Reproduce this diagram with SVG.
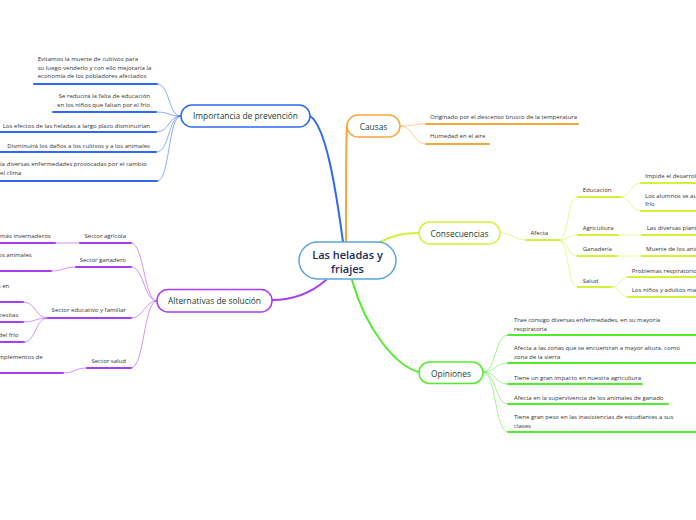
<svg xmlns="http://www.w3.org/2000/svg" width="696" height="520" viewBox="0 0 696 520">
<style>
.t{font-family:"Open Sans","Noto Sans","Liberation Sans",sans-serif;font-size:6.05px;fill:#333}
.n{font-family:"Open Sans","Noto Sans","Liberation Sans",sans-serif;font-size:8.4px;fill:#163f2e}
.c{font-family:"Open Sans","Noto Sans","Liberation Sans",sans-serif;font-size:11px;font-weight:600;fill:#1a2a55}
.e{text-anchor:end}
.m{text-anchor:middle}
.box{fill:#fff;stroke-width:1.5}
.u{fill:none;stroke-width:2;stroke-linecap:round}
.k{fill:none;stroke-width:1;opacity:.55}
.b{stroke:#2f68f2}.p{stroke:#a93ef0}.o{stroke:#f6a73a}.y{stroke:#d2f23a}.g{stroke:#52ec2e}
</style>
<rect width="696" height="520" fill="#fff"/>
<g id="connectors">
<path class="u b" d="M343,242 C336,190 326,126 310,116"/>
<path class="u o" d="M346,242 C346,190 346,130 347,126"/>
<path class="u y" d="M380,242 C392,236 402,233 419,233"/>
<path class="u g" d="M352,280 C366,330 396,366 419,372"/>
<path class="u p" d="M326,280 C310,294 292,300 272,300"/>
<path class="k b" d="M181,116 C168,116 170,84 157,84"/>
<path class="k b" d="M181,116 C168,116 170,112 156,112"/>
<path class="k b" d="M181,116 C168,116 170,132 156,132"/>
<path class="k b" d="M181,116 C168,116 170,152 156,152"/>
<path class="k b" d="M181,116 C168,116 170,181 157,181"/>
<path class="k o" d="M400,126 C413,126 413,124 426,124"/>
<path class="k o" d="M400,126 C413,126 413,144 426,144"/>
<path class="k y" d="M501,233 C513,233 514,240 526,240"/>
<path class="k y" d="M558,240 C570,240 566,197 578,197"/>
<path class="k y" d="M558,240 C570,240 566,235 578,235"/>
<path class="k y" d="M558,240 C570,240 566,256 578,256"/>
<path class="k y" d="M558,240 C570,240 566,287 578,287"/>
<path class="k y" d="M620,197 C631,197 630,183 641,183"/>
<path class="k y" d="M620,197 C631,197 630,211 641,211"/>
<path class="k y" d="M618,235 L642,235"/>
<path class="k y" d="M617,256 L642,256"/>
<path class="k y" d="M612,287 C620,287 620,277 628,277"/>
<path class="k y" d="M612,287 C620,287 620,297 628,297"/>
<path class="k g" d="M483,372 C496,372 495,335 508,335"/>
<path class="k g" d="M483,372 C496,372 495,363 508,363"/>
<path class="k g" d="M483,372 C496,372 495,384 508,384"/>
<path class="k g" d="M483,372 C496,372 495,404 508,404"/>
<path class="k g" d="M483,372 C496,372 495,432 508,432"/>
<path class="k p" d="M157,301 C144,301 144,243 131,243"/>
<path class="k p" d="M157,301 C144,301 144,267 131,267"/>
<path class="k p" d="M157,301 C144,301 144,318 131,318"/>
<path class="k p" d="M157,301 C144,301 144,368 131,368"/>
<path class="k p" d="M55,243 L80,243"/>
<path class="k p" d="M51,271 C64,271 63,267 76,267"/>
<path class="k p" d="M48,318 C35,318 36,302 23,302"/>
<path class="k p" d="M48,318 C35,318 36,322 23,322"/>
<path class="k p" d="M48,318 C35,318 36,342 24,342"/>
<path class="k p" d="M63,373 C75,373 75,368 87,368"/>
</g>
<g id="center">
<rect class="box" x="299" y="242" width="97" height="37" rx="18.5" fill="#f6fbff" stroke="#58a6dc"/>
<text class="c m" x="347.5" y="259">Las heladas y</text>
<text class="c m" x="347.5" y="273">friajes</text>
</g>
<g id="importancia">
<rect class="box" x="181" y="105" width="129" height="22" rx="11" stroke="#2f68f2"/>
<text class="n m" x="245.5" y="119">Importancia de prevención</text>
<path class="u b" d="M34,84 H157"/>
<text class="t" x="37.7" y="61.2">Evitamos la muerte de cultivos para</text>
<text class="t" x="37.7" y="69.7">su luego venderlo y con ello mejoraría la</text>
<text class="t" x="37.7" y="78.2">economía de los pobladores afectados</text>
<path class="u b" d="M53,112 H156"/>
<text class="t e" x="150" y="98">Se reducirá la falta de educación</text>
<text class="t e" x="150" y="107">en los niños que faltan por el frío</text>
<path class="u b" d="M0,132 H156"/>
<text class="t e" x="150" y="127.5">Los efectos de las heladas a largo plazo disminuirían</text>
<path class="u b" d="M0,152 H156"/>
<text class="t e" x="150" y="147.5">Disminuirá los daños a los cultivos y a los animales</text>
<path class="u b" d="M0,181 H157"/>
<text class="t" x="0" y="166">ía diversas enfermedades provocadas por el cambio</text>
<text class="t" x="0" y="174.5">el clima</text>
</g>
<g id="causas">
<rect class="box" x="347" y="115" width="53" height="22" rx="11" stroke="#f6a73a"/>
<text class="n m" x="373.5" y="129.5">Causas</text>
<path class="u o" d="M426,124 H578"/>
<text class="t" x="430" y="118.5">Originado por el descenso brusco de la temperatura</text>
<path class="u o" d="M426,144 H489"/>
<text class="t" x="430" y="138">Humedad en el aire</text>
</g>
<g id="consecuencias">
<rect class="box" x="419" y="222" width="81" height="22" rx="11" stroke="#d2f23a"/>
<text class="n m" x="459.5" y="236.5">Consecuencias</text>
<path class="u y" d="M526,240 H558"/>
<text class="t" x="530.5" y="235">Afecta</text>
<path class="u y" d="M578,197 H620"/>
<text class="t" x="582.7" y="192">Educación</text>
<path class="u y" d="M578,235 H618"/>
<text class="t" x="582.7" y="230">Agricultura</text>
<path class="u y" d="M578,256 H617"/>
<text class="t" x="582.7" y="250.5">Ganadería</text>
<path class="u y" d="M578,287 H611"/>
<text class="t" x="582.7" y="282.5">Salud</text>
<path class="u y" d="M641,183 H700"/>
<text class="t" x="645" y="178">Impide el desarrollo</text>
<path class="u y" d="M641,211 H700"/>
<text class="t" x="645" y="198">Los alumnos se ausentan</text>
<text class="t" x="645" y="206">frío</text>
<path class="u y" d="M642,235 H700"/>
<text class="t" x="646.7" y="230">Las diversas plantaciones</text>
<path class="u y" d="M642,256 H700"/>
<text class="t" x="646" y="250.5">Muerte de los animales</text>
<path class="u y" d="M628,277 H700"/>
<text class="t" x="631.7" y="273">Problemas respiratorios</text>
<path class="u y" d="M628,297 H700"/>
<text class="t" x="631.7" y="292">Los niños y adultos mayores</text>
</g>
<g id="opiniones">
<rect class="box" x="419" y="362" width="64" height="21.5" rx="10.75" stroke="#52ec2e"/>
<text class="n m" x="451" y="376.5">Opiniones</text>
<path class="u g" d="M508,335 H700"/>
<text class="t" x="514" y="322">Trae consigo diversas enfermedades, en su mayoría</text>
<text class="t" x="514" y="330.5">respiratoria</text>
<path class="u g" d="M508,363 H700"/>
<text class="t" x="514" y="350">Afecta a las zonas que se encuentran a mayor altura, como</text>
<text class="t" x="514" y="358.5">zona de la sierra</text>
<path class="u g" d="M508,384 H642"/>
<text class="t" x="514" y="379.5">Tiene  un gran impacto en nuestra agricultura</text>
<path class="u g" d="M508,404 H668"/>
<text class="t" x="514" y="399.5">Afecta en la supervivencia de los animales de ganado</text>
<path class="u g" d="M508,432 H700"/>
<text class="t" x="514" y="419">Tiene gran peso en las inasistencias de estudiantes a sus</text>
<text class="t" x="514" y="427.5">clases</text>
</g>
<g id="alternativas">
<rect class="box" x="157" y="289.5" width="115" height="22.5" rx="11" stroke="#a93ef0"/>
<text class="n m" x="214.5" y="304">Alternativas de solución</text>
<path class="u p" d="M80,243 H131"/>
<text class="t e" x="126" y="237.5">Sector agrícola</text>
<path class="u p" d="M-2,243 H55"/>
<text class="t e" x="50.7" y="237.5">más invernaderos</text>
<path class="u p" d="M76,267 H131"/>
<text class="t e" x="126" y="261.5">Sector ganadero</text>
<path class="u p" d="M-2,271 H51"/>
<text class="t e" x="31.7" y="256.5">os animales</text>
<path class="u p" d="M48,318 H131"/>
<text class="t e" x="126" y="311.5">Sector educativo y familiar</text>
<path class="u p" d="M-2,302 H23"/>
<text class="t e" x="9.3" y="288">s en</text>
<path class="u p" d="M-2,322 H23"/>
<text class="t e" x="18.3" y="316.5">cesitas</text>
<path class="u p" d="M-2,342 H24"/>
<text class="t e" x="18.3" y="336.5">del frío</text>
<path class="u p" d="M87,368 H131"/>
<text class="t e" x="126" y="363">Sector salud</text>
<path class="u p" d="M-2,373 H63"/>
<text class="t e" x="42.7" y="359">mplementos de</text>
</g>
</svg>
